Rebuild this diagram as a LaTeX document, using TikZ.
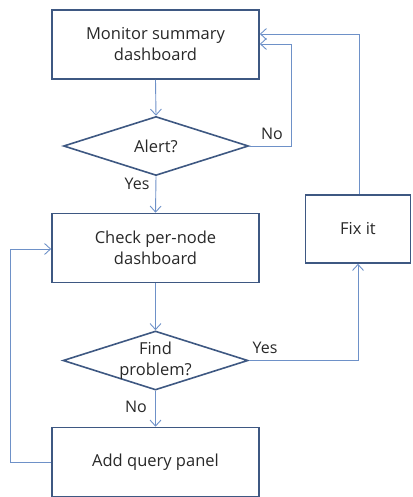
\documentclass[tikz,border=0pt]{standalone}
\usepackage{fontspec}
\setmainfont{Open Sans}
\usetikzlibrary{shapes.geometric,arrows.meta}
\definecolor{boxline}{RGB}{62,88,130}
\definecolor{flow}{RGB}{110,145,200}
\definecolor{ink}{RGB}{40,40,40}
\begin{document}
\begin{tikzpicture}[x=1pt,y=-1pt,
  every node/.style={font=\fontsize{16.5}{21}\selectfont, text=ink},
  stepbox/.style={draw=boxline, line width=1.6pt, minimum width=207pt, minimum height=69pt, align=center, inner sep=0pt},
  choice/.style={draw=boxline, line width=1.6pt, diamond, aspect=3.2, minimum width=185pt, minimum height=59pt, inner sep=0pt},
  flowline/.style={draw=flow, line width=0.9pt, -{Straight Barb[length=6pt,width=11pt,line width=0.9pt]}},
  lbl/.style={font=\fontsize{16}{18}\selectfont}]
\useasboundingbox (0,0) rectangle (412,497);
\node[stepbox] (mon) at (155.5,44.5) {Monitor summary\\dashboard};
\node[choice] (alert) at (156,146) {};
\node (alerttxt) at (alert.center) {Alert?};
\node[stepbox] (chk) at (155.5,248) {Check per-node\\dashboard};
\node[choice] (find) at (155.5,360.5) {};
\node[align=center] (findtxt) at (find.center) {Find\\problem?};
\node[stepbox] (add) at (155.5,462) {Add query panel};
\node[stepbox, minimum width=105pt, minimum height=68pt] (fix) at (358,229) {Fix it};

\coordinate (noc) at (291,44);
\coordinate (fixc) at (359,34);
\coordinate (lc) at (10,249);

\path[flowline] (mon.south) -- (alert.north);
\path[flowline] (alert.south) -- (chk.north);
\path[flowline] (alert.east) -| (noc) -- (mon.east |- noc);
\path[flowline] (fix.north -| fixc) |- (mon.east |- fixc);
\path[flowline] (chk.south) -- (find.north);
\path[flowline] (find.south) -- (add.north);
\path[flowline] (find.east) -| (fix.south);
\path[flowline] (add.west) -| (lc) -- (chk.west |- lc);

\node[lbl] (no1) at (272,134) {No};
\node[lbl] (yes1) at (137,184) {Yes};
\node[lbl] (yes2) at (265,348) {Yes};
\node[lbl] (no2) at (136,407) {No};
\end{tikzpicture}
\end{document}
